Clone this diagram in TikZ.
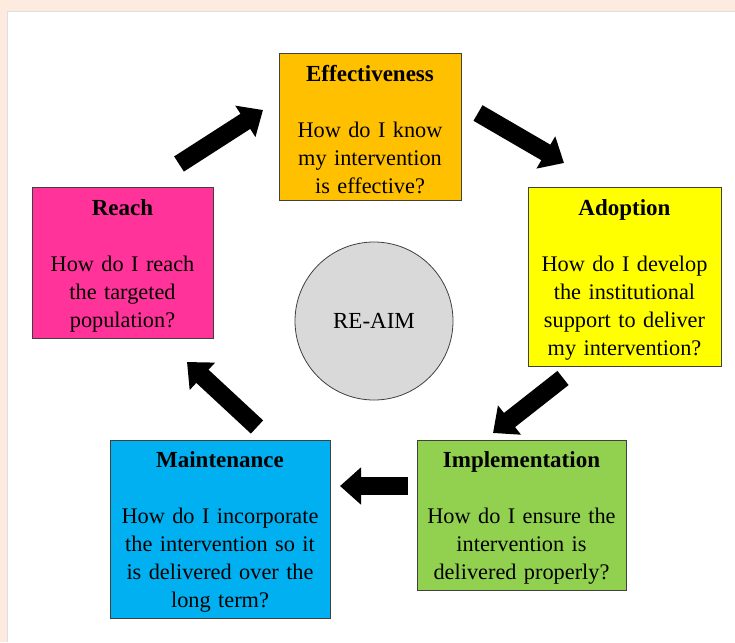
\documentclass[tikz,border=0pt]{standalone}
\usepackage{fontspec}
\setmainfont{Liberation Serif}
\usepackage{tikz}
\usepackage{xcolor}
\usetikzlibrary{arrows.meta}

\definecolor{pagebg}{HTML}{FDEBDF}
\definecolor{effcol}{HTML}{FFC000}
\definecolor{reachcol}{HTML}{FF3399}
\definecolor{adoptcol}{HTML}{FFFF00}
\definecolor{implcol}{HTML}{92D050}
\definecolor{maintcol}{HTML}{00B0F0}
\definecolor{hubcol}{HTML}{D9D9D9}
\definecolor{edgecol}{HTML}{404040}

\newcommand{\stagetitle}[1]{\rule{0pt}{22pt}{\fontsize{23}{28}\selectfont\textbf{#1}}\\[28pt]}

\begin{document}
\begin{tikzpicture}[x=1pt,y=-1pt,>={Triangle[width=36pt,length=21pt]},
    stage/.style={draw=edgecol, line width=0.8pt, align=center, inner sep=0pt,
      font=\fontsize{22.3}{28}\selectfont},
    cycle/.style={black, line width=18pt, ->}]
      \useasboundingbox (0,0) rectangle (735,642);
      \fill[pagebg] (0,0) rectangle (735,642);
      \fill[white] (7.5,12) rectangle (735,642);
      \draw[gray!25, line width=1pt] (735,12) -- (7.5,12) -- (7.5,642);

      % the five stages
      \node[stage, fill=effcol, minimum width=182pt, minimum height=147pt, text width=176pt]
        (eff) at (370,126.5) {\stagetitle{Effectiveness}How do I know\\my intervention\\is effective?};
      \node[stage, fill=reachcol, minimum width=181pt, minimum height=151pt, text width=175pt]
        (reach) at (122.5,262.5) {\stagetitle{Reach}How do I reach\\the targeted\\population?};
      \node[stage, fill=adoptcol, minimum width=193pt, minimum height=179pt, text width=187pt]
        (adopt) at (624.5,276.5) {\stagetitle{Adoption}How do I develop\\the institutional\\support to deliver\\my intervention?};
      \node[stage, fill=implcol, minimum width=209pt, minimum height=150pt, text width=203pt]
        (impl) at (521.5,515) {\stagetitle{Implementation}How do I ensure the\\intervention is\\delivered properly?};
      \node[stage, fill=maintcol, minimum width=220pt, minimum height=178pt, text width=214pt]
        (maint) at (220,529) {\stagetitle{Maintenance}How do I incorporate\\the intervention so it\\is delivered over the\\long term?};

      % hub
      \node[circle, draw=edgecol, line width=0.8pt, fill=hubcol, minimum size=158pt,
        font=\fontsize{23}{28}\selectfont] (hub) at (374,321) {RE-AIM};

      % arrow ends
      \coordinate (r1) at (179,164);   \coordinate (e1) at (263,110);
      \coordinate (e2) at (478,113);   \coordinate (a2) at (564,163);
      \coordinate (a3) at (563,378);   \coordinate (i3) at (493,433);
      \coordinate (i4) at (408,486);   \coordinate (m4) at (340,486);
      \coordinate (m5) at (257,427);   \coordinate (r5) at (187,362);

      % cycle arrows
      \draw[cycle] (r1) -- (e1);
      \draw[cycle] (e2) -- (a2);
      \draw[cycle] (a3) -- (i3);
      \draw[cycle] (i4) -- (m4);
      \draw[cycle] (m5) -- (r5);
    \end{tikzpicture}
\end{document}
